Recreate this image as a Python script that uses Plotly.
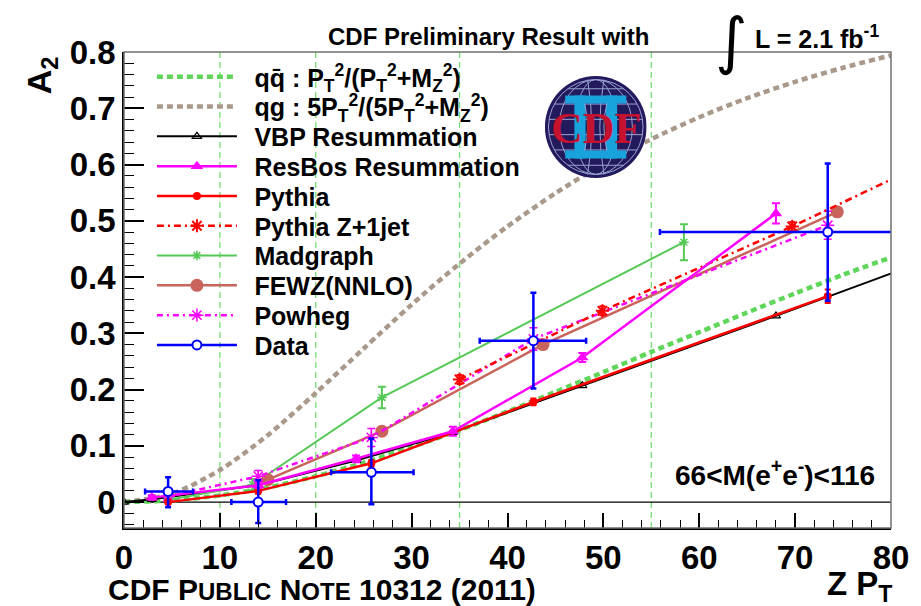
import math
import plotly.graph_objects as go

# ------------------------------------------------------------------ data
# analytic expectations for A2 versus Z pT, sampled every 5 GeV
curve_pt = [0, 5, 10, 15, 20, 25, 30, 35, 40, 45, 50, 55, 60, 65, 70, 75, 80]
qqbar_a2 = [0.000, 0.003, 0.012, 0.026, 0.046, 0.070, 0.098, 0.128, 0.161,
            0.196, 0.231, 0.267, 0.302, 0.337, 0.371, 0.404, 0.435]
qg_a2 = [0.000, 0.015, 0.057, 0.119, 0.194, 0.273, 0.351, 0.424, 0.490,
         0.549, 0.601, 0.645, 0.684, 0.718, 0.747, 0.772, 0.794]

# VBP resummation
vbp_pt = [0.0, 2.9, 14.0, 24.2, 34.3, 47.8, 68.0, 82.0]
vbp_a2 = [0.000, 0.005, 0.030, 0.074, 0.124, 0.207, 0.331, 0.419]

# ResBos resummation
resbos_pt = [2.9, 14.0, 24.2, 34.3, 47.8, 68.0]
resbos_a2 = [0.008, 0.030, 0.077, 0.126, 0.257, 0.513]
resbos_err = [0.004, 0.005, 0.006, 0.008, 0.008, 0.018]

# Pythia
pythia_pt = [4.6, 14.0, 25.8, 42.7, 73.4]
pythia_a2 = [0.000, 0.020, 0.069, 0.178, 0.366]
pythia_err = [0.004, 0.005, 0.006, 0.006, 0.012]

# Pythia Z+1jet
pyz1j_pt = [35.0, 49.9, 69.7, 90.0]
pyz1j_a2 = [0.218, 0.340, 0.490, 0.654]
pyz1j_err = [0.008, 0.008, 0.008, 0.010]

# Madgraph
madgraph_pt = [4.6, 13.4, 26.9, 58.4]
madgraph_a2 = [0.004, 0.031, 0.186, 0.462]
madgraph_err = [0.004, 0.010, 0.019, 0.032]

# FEWZ (NNLO)
fewz_pt = [15.0, 26.9, 43.7, 74.4]
fewz_a2 = [0.040, 0.126, 0.280, 0.516]

# Powheg
powheg_pt = [4.6, 14.0, 25.8, 42.7, 73.4]
powheg_a2 = [0.010, 0.046, 0.115, 0.290, 0.492]
powheg_err = [0.004, 0.010, 0.016, 0.020, 0.025]

# measurement
data_pt = [4.6, 14.0, 25.8, 42.7, 73.4]
data_pt_lo = [2.4, 2.8, 4.2, 5.6, 17.5]
data_pt_hi = [2.6, 2.9, 4.4, 5.5, 26.6]
data_a2 = [0.019, 0.000, 0.053, 0.287, 0.480]
data_a2_up = [0.025, 0.039, 0.060, 0.085, 0.122]
data_a2_dn = [0.028, 0.037, 0.057, 0.085, 0.122]

# pT bin boundaries marked on the plot
bin_edges = [10, 20, 35, 55]

x_ticks = [0, 10, 20, 30, 40, 50, 60, 70, 80]

# ------------------------------------------------------------------ style
W, H = 921, 606
L, R, T, B = 124, 893, 52, 528          # frame in pixels
FONT = "Liberation Sans, Arial, Helvetica, sans-serif"

GREEN_DOT = "#5fd65a"
TAN = "#a8998b"
MAGENTA = "#ff00ff"
RED = "#ff0000"
MG_GREEN = "#55c855"
FEWZ_COL = "#c8645c"
BLUE = "#0000ff"

LEG_X, LEG_Y0, LEG_DY = 152, 77, 29.8   # legend column start / row pitch (px)


def px(xp):
    return (xp - L) / (R - L)


def py(yp):
    return (B - yp) / (B - T)


def gapped(vals, fill=None):
    """Separate consecutive points so no line joins them."""
    out = []
    for v in vals:
        out += [v, fill]
    return out[:-1]


fig = go.Figure()
legends = {}


def add(name, x, y, row, line, marker=None, err=None, mode="lines+markers",
        shape="linear", **kw):
    key = "legend" if row == 0 else f"legend{row + 1}"
    legends[key] = dict(
        x=px(LEG_X), y=py(LEG_Y0 + LEG_DY * row), xanchor="left", yanchor="middle",
        bgcolor="rgba(0,0,0,0)", borderwidth=0, itemwidth=80,
        font=dict(family=FONT, size=25, color="black", weight="bold"),
        itemclick=False, itemdoubleclick=False)
    fig.add_trace(go.Scatter(
        x=x, y=y, name="\u2002" + name, mode=mode, legend=key,
        line=dict(shape=shape, **line), marker=marker or {},
        error_y=err, **kw))


add("qg : 5P<sub>T</sub><sup>2</sup>/(5P<sub>T</sub><sup>2</sup>+M<sub>Z</sub><sup>2</sup>)",
    curve_pt, qg_a2, 1, dict(color=TAN, width=4.5, dash="6px,4px", smoothing=0.8),
    mode="lines", shape="spline")
add("qq\u0304 : P<sub>T</sub><sup>2</sup>/(P<sub>T</sub><sup>2</sup>+M<sub>Z</sub><sup>2</sup>)",
    curve_pt, qqbar_a2, 0, dict(color=GREEN_DOT, width=4.5, dash="6px,4px", smoothing=0.8),
    mode="lines", shape="spline")
add("VBP Resummation", vbp_pt, vbp_a2, 2, dict(color="black", width=2),
    dict(symbol="triangle-up-open", size=8, color="black", line=dict(width=1.2)))
add("Madgraph", madgraph_pt, madgraph_a2, 6, dict(color=MG_GREEN, width=2),
    dict(symbol="asterisk-open", size=8, color=MG_GREEN, line=dict(width=1.5, color=MG_GREEN)),
    dict(type="data", array=madgraph_err, color=MG_GREEN, thickness=2, width=4))
add("FEWZ(NNLO)", fewz_pt, fewz_a2, 7, dict(color=FEWZ_COL, width=2.5),
    dict(symbol="circle", size=13, color=FEWZ_COL))
add("Powheg", powheg_pt, powheg_a2, 8,
    dict(color=MAGENTA, width=2.5, dash="6px,4px,2px,4px"),
    dict(symbol="asterisk-open", size=11, color=MAGENTA, line=dict(width=1.5, color=MAGENTA)),
    dict(type="data", array=powheg_err, color=MAGENTA, thickness=1.5, width=4))
add("Pythia Z+1jet", pyz1j_pt, pyz1j_a2, 5,
    dict(color=RED, width=2.5, dash="7px,4px,2px,4px"),
    dict(symbol="asterisk-open", size=11, color=RED, line=dict(width=2, color=RED)),
    dict(type="data", array=pyz1j_err, color=RED, thickness=2, width=3))
add("Pythia", pythia_pt, pythia_a2, 4, dict(color=RED, width=2.5),
    dict(symbol="circle", size=8, color=RED),
    dict(type="data", array=pythia_err, color=RED, thickness=2, width=3))
add("ResBos Resummation", resbos_pt, resbos_a2, 3, dict(color=MAGENTA, width=2.5),
    dict(symbol="triangle-up", size=11, color=MAGENTA),
    dict(type="data", array=resbos_err, color=MAGENTA, thickness=2, width=4))
# measured points: unconnected, with x and y uncertainties
add("Data", gapped(data_pt), gapped(data_a2), 9, dict(color=BLUE, width=2.5),
    dict(symbol="circle", size=9, color="white", line=dict(width=2, color=BLUE)),
    dict(type="data", array=gapped(data_a2_up, 0), arrayminus=gapped(data_a2_dn, 0),
         symmetric=False, color=BLUE, thickness=2.5, width=3),
    error_x=dict(type="data", array=gapped(data_pt_hi, 0), arrayminus=gapped(data_pt_lo, 0),
                 symmetric=False, color=BLUE, thickness=2.5, width=3),
    connectgaps=False)

shapes = []
for xe in bin_edges:
    shapes.append(dict(type="line", xref="x", yref="paper", x0=xe, x1=xe, y0=0, y1=1,
                       line=dict(color="#77dd77", width=1.3, dash="6px,4px"), layer="below"))
shapes.append(dict(type="line", xref="paper", yref="y", x0=0, x1=1, y0=0, y1=0,
                   line=dict(color="black", width=1.2), layer="below"))
# frame
shapes.append(dict(type="rect", xref="paper", yref="paper", x0=0, x1=1, y0=0, y1=1,
                   line=dict(color="#707070", width=1.5), layer="above"))

# ---- CDF II logo on its own small square subplot
NAVY = "#231a5e"
GRID = "#9aa3d2"
CYAN = "#18a3dc"
lg = dict(xref="x2", yref="y2", layer="above")
shapes.append(dict(type="circle", x0=-1, x1=1, y0=-1, y1=1, fillcolor=NAVY,
                   line=dict(width=0), **lg))
shapes.append(dict(type="circle", x0=-0.93, x1=0.93, y0=-0.93, y1=0.93,
                   line=dict(color=GRID, width=1), **lg))
for rx in (0.4, 0.72):
    shapes.append(dict(type="circle", x0=-rx, x1=rx, y0=-0.93, y1=0.93,
                       line=dict(color=GRID, width=1), **lg))
for yy in (-0.75, -0.45, -0.15, 0.15, 0.45, 0.75):
    hw = math.sqrt(0.93 ** 2 - yy ** 2)
    shapes.append(dict(type="line", x0=-hw, x1=hw, y0=yy, y1=yy,
                       line=dict(color=GRID, width=1), **lg))
for s in (-1, 1):
    shapes.append(dict(type="path", path=f"M {0.16*s},0.93 Q {0.0*s},0 {0.16*s},-0.93",
                       line=dict(color=GRID, width=1), **lg))
for (x0, x1, y0, y1) in ((-0.6, 0.6, 0.46, 0.62), (-0.6, 0.6, -0.62, -0.46),
                         (-0.42, -0.2, -0.62, 0.62), (0.2, 0.42, -0.62, 0.62)):
    shapes.append(dict(type="rect", x0=x0, x1=x1, y0=y0, y1=y1, fillcolor=CYAN,
                       line=dict(width=0), **lg))
for s in (-1, 1):
    shapes.append(dict(type="path", path=f"M {0.22*s},0.46 Q {0.1*s},0 {0.22*s},-0.46",
                       line=dict(color=GRID, width=1), **lg))

ann = []


def text(t, xp, yp, size, xanchor="center", yanchor="middle", angle=0,
         family=FONT, color="black", xref="paper", yref="paper"):
    ann.append(dict(text=t, x=xp, y=yp, xref=xref, yref=yref, xanchor=xanchor,
                    yanchor=yanchor, showarrow=False, textangle=angle,
                    font=dict(family=family, size=size, color=color)))


text("<b>CDF Preliminary Result with</b>", px(652), py(37), 24, xanchor="right")
text("\u222b", px(733), py(40), 62, family="DejaVu Sans")
text("<b>L = 2.1 fb<sup>-1</sup></b>", px(755), py(37), 25, xanchor="left")
text("<b>66<M(e<sup>+</sup>e<sup>-</sup>)<116</b>", px(777), py(473), 28)
text("<b>Z P<sub>T</sub></b>", px(896), py(586), 33, xanchor="right")
text("<b>A<sub>2</sub></b>", px(41), py(75), 34, angle=-90)
text("<b>CDF P<span style='font-size:24px'>UBLIC</span> N<span style='font-size:24px'>OTE</span>"
     " 10312 (2011)</b>", px(106), py(589), 30, xanchor="left")
text("<b>CDF</b>", 0, -0.02, 44, family="Liberation Serif, Times New Roman, serif",
     color="#c4122f", xref="x2", yref="y2")

# logo subplot domain (square in pixels)
cx, cy, rad = 597, 127, 51
logo_x = [px(cx - rad), px(cx + rad)]
logo_y = [py(cy + rad), py(cy - rad)]

axis_font = dict(family=FONT, size=33, color="black", weight="bold")

fig.update_layout(
    width=W, height=H,
    margin=dict(l=L, r=W - R, t=T, b=H - B, pad=0),
    paper_bgcolor="white", plot_bgcolor="rgba(0,0,0,0)",
    showlegend=True,
    xaxis=dict(range=[0, 80], tickvals=x_ticks, ticks="inside", ticklen=15, tickwidth=1.5,
               tickcolor="black", showgrid=False, zeroline=False, showline=True,
               linecolor="black", linewidth=1.5, tickfont=axis_font,
               minor=dict(ticks="inside", ticklen=8, dtick=2, tickwidth=1.2,
                          tickcolor="black", showgrid=False)),
    yaxis=dict(range=[-0.046, 0.8], dtick=0.1, tick0=0, ticks="inside", ticklen=20,
               tickwidth=1.5, tickcolor="black", showgrid=False, zeroline=False,
               showline=True, linecolor="black", linewidth=1.5, tickfont=axis_font,
               minor=dict(ticks="inside", ticklen=10, dtick=0.02, tickwidth=1.2,
                          tickcolor="black", showgrid=False)),
    xaxis2=dict(domain=logo_x, range=[-1, 1], visible=False, anchor="y2",
                fixedrange=True),
    yaxis2=dict(domain=logo_y, range=[-1, 1], visible=False, anchor="x2",
                fixedrange=True),
    shapes=shapes,
    annotations=ann,
    **legends,
)

fig.write_html("out.html")
